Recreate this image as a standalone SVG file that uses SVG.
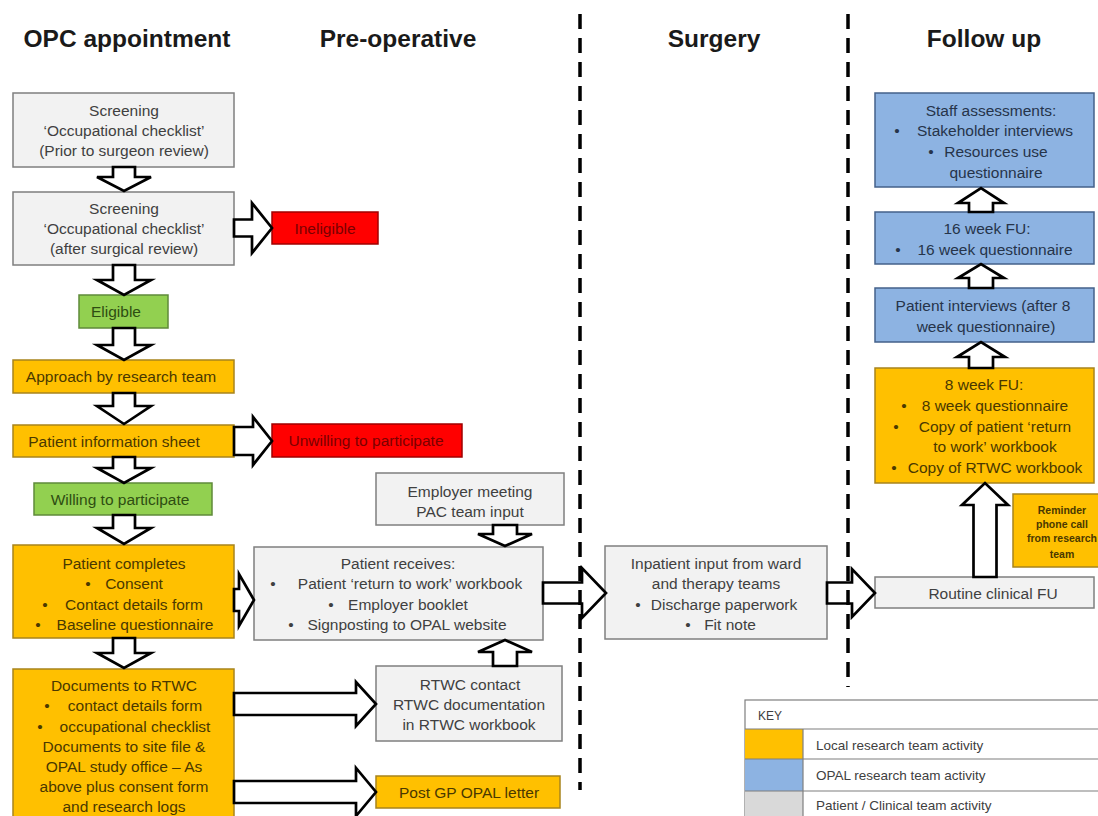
<svg xmlns="http://www.w3.org/2000/svg" width="1098" height="816" viewBox="0 0 1098 816">
  <style>
    text { font-family: "Liberation Sans", Arial, sans-serif; font-size: 15.5px; text-anchor: middle; }
    .h { font-size: 24.5px; font-weight: bold; fill: #1a1a1a; }
    .grey rect, rect.grey { fill: #f2f2f2; stroke: #7f7f7f; stroke-width: 1.5; }
    .grey text { fill: #404040; }
    .orange rect, rect.orange { fill: #ffc000; stroke: #a8841c; stroke-width: 1.5; }
    .orange text { fill: #4a3800; }
    .blue rect, rect.blue { fill: #8db3e2; stroke: #44618a; stroke-width: 1.5; }
    .blue text { fill: #26344a; }
    .green rect { fill: #92d050; stroke: #5f8a3a; stroke-width: 1.5; }
    .green text { fill: #2e4d12; }
    .red rect { fill: #ff0000; stroke: #a00000; stroke-width: 1.5; }
    .red text { fill: #7a0000; }
    .small { font-size: 10.5px; font-weight: bold; }
    .key text { font-size: 13.5px; fill: #404040; text-anchor: start; }
    .key line { stroke: #7f7f7f; stroke-width: 1.2; }
    #connectors polygon { fill: #ffffff; stroke: #000000; stroke-width: 2.7; stroke-linejoin: miter; }
    .phase { stroke: #000000; stroke-width: 3.5; stroke-dasharray: 15 9; fill: none; }
  </style>

  <!-- column headings -->
  <g id="headings">
    <text class="h" x="127" y="47">OPC appointment</text>
    <text class="h" x="398" y="47">Pre-operative</text>
    <text class="h" x="714" y="47">Surgery</text>
    <text class="h" x="984" y="47">Follow up</text>
  </g>

  <!-- OPC appointment column -->
  <g id="screening-prior" class="grey">
    <rect x="13" y="93" width="221" height="74"/>
    <text x="124" y="115.5">Screening</text>
    <text x="124" y="135.5">‘Occupational checklist’</text>
    <text x="124" y="155.5">(Prior to surgeon review)</text>
  </g>
  <g id="screening-after" class="grey">
    <rect x="13" y="192" width="221" height="73"/>
    <text x="124" y="213.5">Screening</text>
    <text x="124" y="233.5">‘Occupational checklist’</text>
    <text x="124" y="253.5">(after surgical review)</text>
  </g>
  <g id="ineligible" class="red">
    <rect x="272" y="212" width="106" height="32"/>
    <text x="325" y="233.5">Ineligible</text>
  </g>
  <g id="eligible" class="green">
    <rect x="79" y="295" width="89" height="33"/>
    <text x="116" y="317">Eligible</text>
  </g>
  <g id="approach" class="orange">
    <rect x="13" y="360" width="221" height="33"/>
    <text x="121" y="382">Approach by research team</text>
  </g>
  <g id="info-sheet" class="orange">
    <rect x="13" y="425" width="221" height="32"/>
    <text x="114" y="446.5">Patient information sheet</text>
  </g>
  <g id="unwilling" class="red">
    <rect x="272" y="424" width="190" height="33"/>
    <text x="366" y="446">Unwilling to participate</text>
  </g>
  <g id="willing" class="green">
    <rect x="34" y="483" width="178" height="32"/>
    <text x="120" y="504.5">Willing to participate</text>
  </g>
  <g id="patient-completes" class="orange">
    <rect x="13" y="545" width="221" height="93"/>
    <text x="124" y="568.5">Patient completes</text>
    <text x="88" y="588.5">•</text><text x="134" y="588.5">Consent</text>
    <text x="45" y="609.5">•</text><text x="134" y="609.5">Contact details form</text>
    <text x="38" y="629.5">•</text><text x="135" y="629.5">Baseline questionnaire</text>
  </g>
  <g id="documents" class="orange">
    <rect x="13" y="669" width="221" height="160"/>
    <text x="124" y="691">Documents to RTWC</text>
    <text x="47" y="711">•</text><text x="135" y="711">contact details form</text>
    <text x="40" y="731.5">•</text><text x="135" y="731.5">occupational checklist</text>
    <text x="124" y="752">Documents to site file &amp;</text>
    <text x="124" y="772">OPAL study office – As</text>
    <text x="124" y="792">above plus consent form</text>
    <text x="124" y="811.5">and research logs</text>
  </g>

  <!-- Pre-operative column -->
  <g id="employer-meeting" class="grey">
    <rect x="376" y="473" width="188" height="52"/>
    <text x="470" y="496.5">Employer meeting</text>
    <text x="470" y="516.5">PAC team input</text>
  </g>
  <g id="patient-receives" class="grey">
    <rect x="254" y="547" width="289" height="93"/>
    <text x="398" y="568.5">Patient receives:</text>
    <text x="273" y="588.5">•</text><text x="410" y="588.5">Patient ‘return to work’ workbook</text>
    <text x="331" y="609.5">•</text><text x="408" y="609.5">Employer booklet</text>
    <text x="291" y="629.5">•</text><text x="407" y="629.5">Signposting to OPAL website</text>
  </g>
  <g id="rtwc-contact" class="grey">
    <rect x="376" y="666" width="186" height="75"/>
    <text x="470" y="689.5">RTWC  contact</text>
    <text x="469" y="709.5">RTWC documentation</text>
    <text x="469" y="729.5">in RTWC workbook</text>
  </g>
  <g id="gp-letter" class="orange">
    <rect x="376" y="776" width="184" height="32"/>
    <text x="469" y="797.5">Post GP OPAL letter</text>
  </g>

  <!-- Surgery column -->
  <g id="inpatient" class="grey">
    <rect x="605" y="546" width="222" height="93"/>
    <text x="716" y="568.5">Inpatient input from ward</text>
    <text x="716" y="588.5">and therapy teams</text>
    <text x="638" y="609.5">•</text><text x="724" y="609.5">Discharge paperwork</text>
    <text x="688" y="629.5">•</text><text x="730" y="629.5">Fit note</text>
  </g>

  <!-- Follow up column -->
  <g id="staff-assessments" class="blue">
    <rect x="875" y="93" width="219" height="94"/>
    <text x="991" y="115.5">Staff assessments:</text>
    <text x="897" y="135.5">•</text><text x="995" y="135.5">Stakeholder interviews</text>
    <text x="931" y="156.5">•</text><text x="996" y="156.5">Resources use</text>
    <text x="996" y="177.5">questionnaire</text>
  </g>
  <g id="week16" class="blue">
    <rect x="875" y="212" width="219" height="52"/>
    <text x="987" y="233.5">16 week FU:</text>
    <text x="898" y="254.5">•</text><text x="995" y="254.5">16 week questionnaire</text>
  </g>
  <g id="patient-interviews" class="blue">
    <rect x="875" y="288" width="219" height="54"/>
    <text x="983" y="310.5">Patient interviews (after 8</text>
    <text x="986" y="331.5">week questionnaire)</text>
  </g>
  <g id="week8" class="orange">
    <rect x="875" y="368" width="219" height="115"/>
    <text x="984" y="389.5">8 week FU:</text>
    <text x="904" y="410.5">•</text><text x="995" y="410.5">8 week questionnaire</text>
    <text x="896" y="431.5">•</text><text x="995" y="431.5">Copy of patient ‘return</text>
    <text x="995" y="451.5">to work’ workbook</text>
    <text x="894" y="472.5">•</text><text x="995" y="472.5">Copy of RTWC workbook</text>
  </g>
  <g id="reminder" class="orange">
    <rect x="1013" y="494" width="100" height="73"/>
    <text class="small" x="1062" y="513.5">Reminder</text>
    <text class="small" x="1062" y="527.5">phone call</text>
    <text class="small" x="1062" y="541.5">from research</text>
    <text class="small" x="1062" y="557.5">team</text>
  </g>
  <g id="routine-fu" class="grey">
    <rect x="875" y="577" width="219" height="31"/>
    <text x="993" y="598.5">Routine clinical FU</text>
  </g>

  <!-- block arrows -->
  <g id="connectors">
    <!-- down arrows, left column -->
    <polygon points="113,167 135,167 135,177 151,177 124,191 97,177 113,177"/>
    <polygon points="113,265 135,265 135,280 151,280 124,295 97,280 113,280"/>
    <polygon points="113,328 135,328 135,345 151,345 124,360 97,345 113,345"/>
    <polygon points="113,393 135,393 135,406 151,406 124,424 97,406 113,406"/>
    <polygon points="113,457 135,457 135,468 151,468 124,483 97,468 113,468"/>
    <polygon points="113,515 135,515 135,528 151,528 124,544 97,528 113,528"/>
    <polygon points="113,638 135,638 135,653 151,653 124,668 97,653 113,653"/>
    <!-- right arrows -->
    <polygon points="234,219.5 252,219.5 252,203 272,228 252,253 252,236.5 234,236.5"/>
    <polygon points="234,427 253,427 253,417 272,441 253,465 253,455 234,455"/>
    <polygon points="234,589 239,589 239,574 254,600 239,626 239,611 234,611"/>
    <polygon points="543,582.5 582,582.5 582,568 606,593 582,618 582,603.5 543,603.5"/>
    <polygon points="827,582.5 852,582.5 852,569 875,593 852,617 852,603.5 827,603.5"/>
    <polygon points="234,693 356,693 356,682 376,704 356,726 356,715 234,715"/>
    <polygon points="234,781 356,781 356,768 376,792 356,816 356,803 234,803"/>
    <!-- pre-operative vertical arrows -->
    <polygon points="493,525 517,525 517,534 532,534 505,546 478,534 493,534"/>
    <polygon points="493,666 517,666 517,652 532,652 505,640 478,652 493,652"/>
    <!-- follow up, upward arrows -->
    <polygon points="973.5,577 996.5,577 996.5,505 1008,505 985,483 962,505 973.5,505"/>
    <polygon points="969,368 993,368 993,357 1005,357 981,342 957,357 969,357"/>
    <polygon points="969,288 993,288 993,278 1004,278 981,264 958,278 969,278"/>
    <polygon points="969,212 993,212 993,203 1004,203 981,188 958,203 969,203"/>
  </g>

  <!-- phase dividers -->
  <g id="dividers">
    <line class="phase" x1="580" y1="14" x2="580" y2="790"/>
    <line class="phase" x1="848" y1="14" x2="848" y2="687"/>
  </g>

  <!-- colour key -->
  <g id="key" class="key">
    <rect x="745" y="700" width="360" height="120" fill="#ffffff" stroke="#7f7f7f" stroke-width="1.2"/>
    <rect x="745" y="729" width="58" height="30" fill="#ffc000"/>
    <rect x="745" y="759" width="58" height="32" fill="#8db3e2"/>
    <rect x="745" y="791" width="58" height="30" fill="#d9d9d9"/>
    <line x1="745" y1="729" x2="1098" y2="729"/>
    <line x1="745" y1="759" x2="1098" y2="759"/>
    <line x1="745" y1="791" x2="1098" y2="791"/>
    <line x1="803" y1="729" x2="803" y2="816"/>
    <text x="758" y="720" style="font-size:12px">KEY</text>
    <text x="816" y="749.5">Local research team activity</text>
    <text x="816" y="780">OPAL research team activity</text>
    <text x="816" y="810">Patient / Clinical team activity</text>
  </g>
</svg>
